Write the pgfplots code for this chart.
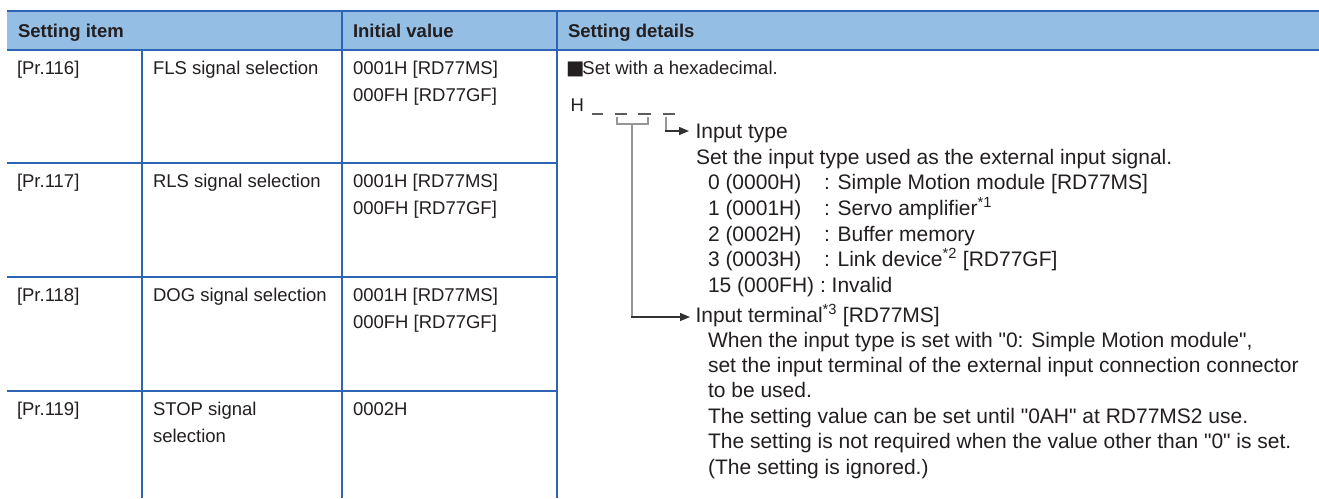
\documentclass[border=0pt]{standalone}
\usepackage{pgfplots}
\pgfplotsset{compat=1.18}
\usepackage{fontspec}
\setmainfont{Liberation Sans}
\newfontfamily\lib{Liberation Sans}
\newfontfamily\dejavu{DejaVu Sans}
\usetikzlibrary{arrows.meta}
\definecolor{tblue}{RGB}{46,100,180}
\definecolor{hblue}{RGB}{148,190,228}
\definecolor{txt}{RGB}{35,31,32}
\definecolor{brk}{RGB}{150,150,150}
\definecolor{arr}{RGB}{50,50,50}
\tikzset{
  t/.style={anchor=base west, inner sep=0pt, outer sep=0pt, text=txt, font=\lib\fontsize{18.5}{27}\selectfont},
  hb/.style={t, font=\lib\fontsize{18.5}{27}\selectfont\bfseries},
  d/.style={t, font=\lib\fontsize{21}{25}\selectfont}
}
\begin{document}
\begin{tikzpicture}
\begin{axis}[
  scale only axis, width=1319pt, height=498pt,
  xmin=0, xmax=1319, ymin=0, ymax=498, y dir=reverse,
  hide axis, no markers, clip=true
]
% background
\addplot[fill=white, draw=none] coordinates {(0,0)(1319,0)(1319,498)(0,498)} -- cycle;
% header fill
\addplot[fill=hblue, draw=none] coordinates {(7,11)(1319,11)(1319,50)(7,50)} -- cycle;
% horizontal rules
\addplot[draw=tblue, line width=2pt] coordinates {(7,11)(1319,11)};
\addplot[draw=tblue, line width=2pt] coordinates {(7,50)(1319,50)};
\addplot[draw=tblue, line width=2pt] coordinates {(7,163)(557,163)};
\addplot[draw=tblue, line width=2pt] coordinates {(7,277)(557,277)};
\addplot[draw=tblue, line width=2pt] coordinates {(7,391)(557,391)};
% vertical rules
\addplot[draw=tblue, line width=2pt] coordinates {(142,50)(142,498)};
\addplot[draw=tblue, line width=2pt] coordinates {(342,11)(342,498)};
\addplot[draw=tblue, line width=2pt] coordinates {(557,11)(557,498)};
% diagram: dashes
\addplot[draw=arr!80, line width=1.3pt] coordinates {(592,114)(603,114)};
\addplot[draw=arr!80, line width=1.3pt] coordinates {(615,114)(627,114)};
\addplot[draw=arr!80, line width=1.3pt] coordinates {(638,114)(651,114)};
\addplot[draw=arr!80, line width=1.3pt] coordinates {(663,114)(675,114)};
% bracket under digits 2-3
\addplot[draw=brk, line width=1.3pt] coordinates {(617,117)(617,124)(648,124)(648,117)};
\addplot[draw=brk, line width=1.3pt] coordinates {(632,124)(632,317)};
\addplot[draw=arr, line width=1.3pt, -{Triangle[length=10pt,width=8pt]}] coordinates {(631.4,317)(690,317)};
% bracket under digit 4
\addplot[draw=brk, line width=1.3pt] coordinates {(666,117)(666,131)};
\addplot[draw=arr, line width=1.3pt, -{Triangle[length=10pt,width=8pt]}] coordinates {(665.4,131)(689,131)};

% header text
\node[hb] at (axis cs:18,37) {Setting item};
\node[hb] at (axis cs:353,37) {Initial value};
\node[hb] at (axis cs:568,37) {Setting details};
% rows
\node[t] at (axis cs:17,74) {[Pr.116]};
\node[t] at (axis cs:153,74) {FLS signal selection};
\node[t] at (axis cs:353,74) {0001H [RD77MS]};
\node[t] at (axis cs:353,101) {000FH [RD77GF]};
\node[t] at (axis cs:17,187) {[Pr.117]};
\node[t] at (axis cs:153,187) {RLS signal selection};
\node[t] at (axis cs:353,187) {0001H [RD77MS]};
\node[t] at (axis cs:353,214) {000FH [RD77GF]};
\node[t] at (axis cs:17,301) {[Pr.118]};
\node[t] at (axis cs:153,301) {DOG signal selection};
\node[t] at (axis cs:353,301) {0001H [RD77MS]};
\node[t] at (axis cs:353,328) {000FH [RD77GF]};
\node[t] at (axis cs:17,415) {[Pr.119]};
\node[t] at (axis cs:153,415) {STOP signal};
\node[t] at (axis cs:153,442) {selection};
\node[t] at (axis cs:353,415) {0002H};
% details
\node[t] at (axis cs:566,74) {{\dejavu\fontsize{19.5}{19.5}\selectfont ■}\kern-2pt Set with a hexadecimal.};
\node[t] at (axis cs:570.5,111) {H};
\node[d] at (axis cs:695.5,138.5) {Input type};
\node[d] at (axis cs:696,164.5) {Set the input type used as the external input signal.};
\node[d] at (axis cs:708,189.5) {0 (0000H)};
\node[d] at (axis cs:824,189.5) {: Simple Motion module [RD77MS]};
\node[d] at (axis cs:708,215.5) {1 (0001H)};
\node[d] at (axis cs:824,215.5) {: Servo amplifier\textsuperscript{*1}};
\node[d] at (axis cs:708,241.5) {2 (0002H)};
\node[d] at (axis cs:824,241.5) {: Buffer memory};
\node[d] at (axis cs:708,266.5) {3 (0003H)};
\node[d] at (axis cs:824,266.5) {: Link device\textsuperscript{*2} [RD77GF]};
\node[d] at (axis cs:708,292.5) {15 (000FH) : Invalid};
\node[d] at (axis cs:695.5,322.5) {Input terminal\textsuperscript{*3} [RD77MS]};
\node[d] at (axis cs:708,347.5) {When the input type is set with "0: Simple Motion module",};
\node[d] at (axis cs:708,372.5) {set the input terminal of the external input connection connector};
\node[d] at (axis cs:708,397.5) {to be used.};
\node[d] at (axis cs:708,423.5) {The setting value can be set until "0AH" at RD77MS2 use.};
\node[d] at (axis cs:708,448.5) {The setting is not required when the value other than "0" is set.};
\node[d] at (axis cs:708,474.5) {(The setting is ignored.)};
\end{axis}
\end{tikzpicture}
\end{document}
